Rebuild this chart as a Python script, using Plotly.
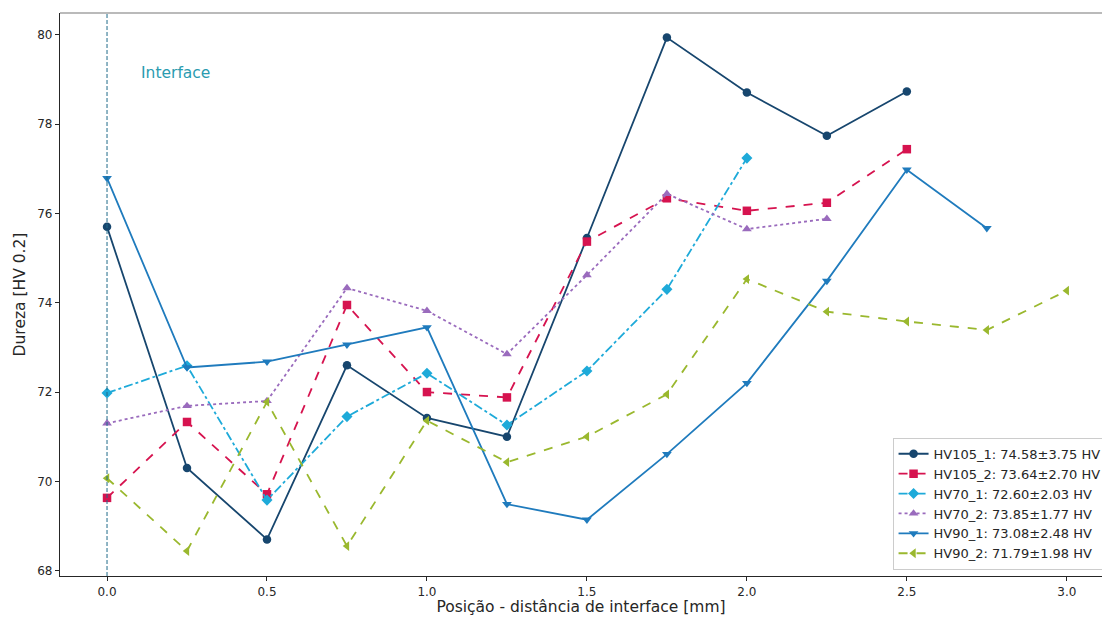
import plotly.graph_objects as go

# Measurement positions (mm from interface)
positions = [0.0, 0.25, 0.5, 0.75, 1.0, 1.25, 1.5, 1.75, 2.0, 2.25, 2.5, 2.75, 3.0]

# Hardness profiles [HV 0.2]
hv105_1 = [75.70, 70.30, 68.70, 72.60, 71.42, 71.00, 75.45, 79.94, 78.71, 77.74, 78.73]
hv105_2 = [69.63, 71.33, 69.71, 73.95, 72.00, 71.88, 75.37, 76.34, 76.06, 76.24, 77.44]
hv70_1 = [71.98, 72.59, 69.58, 71.45, 72.42, 71.26, 72.47, 74.30, 77.24]
hv70_2 = [71.30, 71.69, 71.80, 74.33, 73.82, 72.85, 74.62, 76.44, 75.65, 75.88]
hv90_1 = [76.79, 72.55, 72.68, 73.06, 73.45, 69.49, 69.14, 70.61, 72.20, 74.49, 76.98, 75.67]
hv90_2 = [70.07, 68.44, 71.78, 68.55, 71.36, 70.43, 71.00, 71.95, 74.53, 73.80, 73.58, 73.39, 74.27]

series_names = [
    "HV105_1: 74.58±3.75 HV",
    "HV105_2: 73.64±2.70 HV",
    "HV70_1: 72.60±2.03 HV",
    "HV70_2: 73.85±1.77 HV",
    "HV90_1: 73.08±2.48 HV",
    "HV90_2: 71.79±1.98 HV",
]
series_values = [hv105_1, hv105_2, hv70_1, hv70_2, hv90_1, hv90_2]

colors = ["#17466e", "#d6134f", "#1eaad9", "#9a6bbd", "#1f7bbd", "#9ab82e"]
dashes = ["solid", "dash", "dashdot", "dot", "solid", "dash"]
symbols = ["circle", "square", "diamond", "triangle-up", "triangle-down", "triangle-left"]

fig = go.Figure()

for name, vals, col, dsh, sym in zip(series_names, series_values, colors, dashes, symbols):
    fig.add_trace(go.Scatter(
        x=positions[:len(vals)], y=vals, name=name, mode="lines+markers",
        line=dict(color=col, width=1.8, dash=dsh),
        marker=dict(color=col, symbol=sym, size=8.5),
    ))

# Interface marker line and label
fig.add_shape(type="line", xref="x", yref="paper", x0=0, x1=0, y0=0, y1=1,
              line=dict(color="#1f6a8a", width=1, dash="4px,2px"))
fig.add_annotation(x=0.1, y=79.15, xref="x", yref="y", text="Interface",
                   showarrow=False, xanchor="left", yanchor="middle",
                   font=dict(family="DejaVu Sans", size=15.5, color="#2a9bb0"))
# Top frame line
fig.add_shape(type="line", xref="paper", yref="paper", x0=0, x1=1, y0=1, y1=1,
              line=dict(color="#777777", width=1.2))

fig.update_layout(
    width=1102, height=620,
    margin=dict(l=60, r=0, t=13, b=44, autoexpand=False),
    paper_bgcolor="white", plot_bgcolor="white",
    font=dict(family="DejaVu Sans", size=12, color="#262626"),
    legend=dict(
        x=0.799, y=0.011, xanchor="left", yanchor="bottom",
        bgcolor="rgba(255,255,255,0.9)", bordercolor="#cccccc", borderwidth=1,
        font=dict(size=13, color="#262626"),
        tracegroupgap=0,
    ),
    showlegend=True,
)

fig.update_xaxes(
    range=[-0.147, 3.11],
    tickvals=[0.0, 0.5, 1.0, 1.5, 2.0, 2.5, 3.0],
    ticktext=["0.0", "0.5", "1.0", "1.5", "2.0", "2.5", "3.0"],
    ticks="outside", ticklen=4, tickcolor="#262626",
    showline=True, linecolor="#262626", linewidth=1.2,
    showgrid=False, zeroline=False,
    title=dict(text="Posição - distância de interface [mm]", font=dict(size=15.5), standoff=3),
)
fig.update_yaxes(
    range=[67.88, 80.49],
    tickvals=[68, 70, 72, 74, 76, 78, 80],
    ticks="outside", ticklen=4, tickcolor="#262626",
    showline=True, linecolor="#262626", linewidth=1.2,
    showgrid=False, zeroline=False,
    title=dict(text="Dureza [HV 0.2]", font=dict(size=15.5), standoff=7),
)

fig.write_html("out.html")
